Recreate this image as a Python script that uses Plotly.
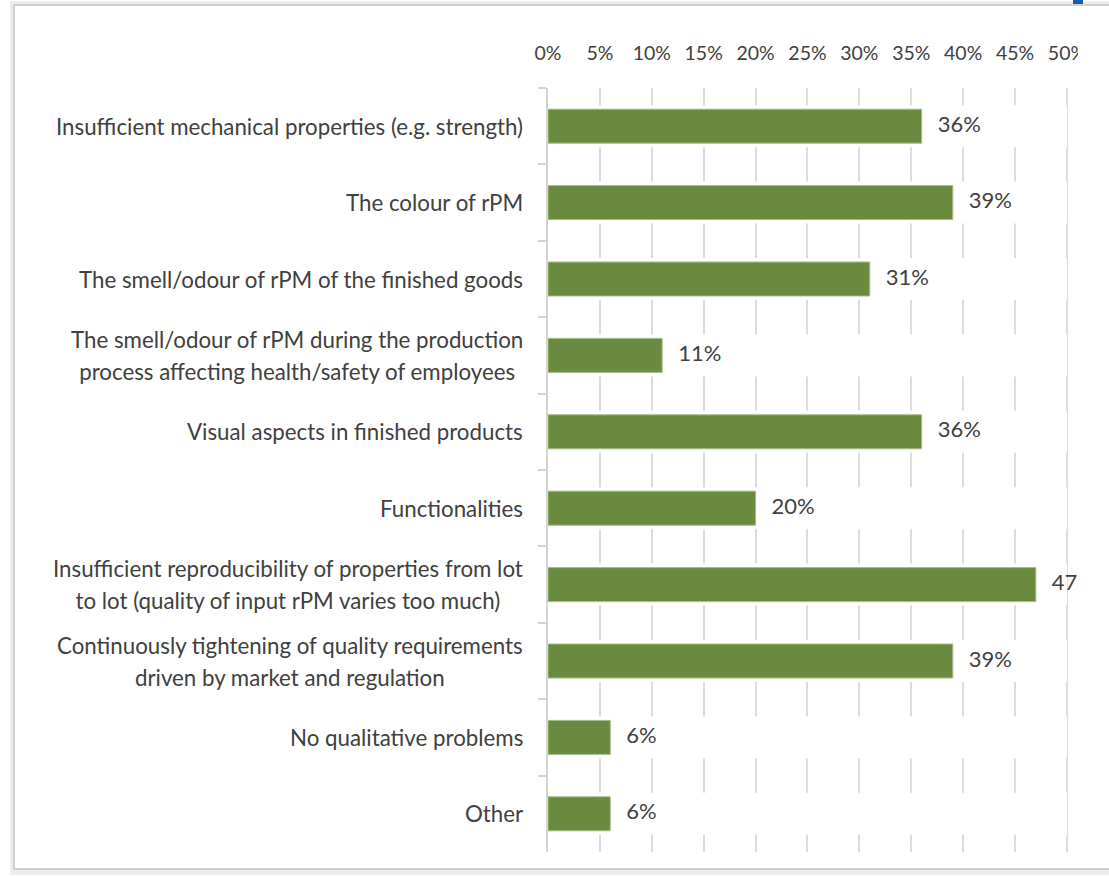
import plotly.graph_objects as go

# Survey: qualitative problems encountered when using recycled plastic material (rPM)
categories = [
    "Insufficient mechanical properties (e.g. strength)",
    "The colour of rPM",
    "The smell/odour of rPM of the finished goods",
    "The smell/odour of rPM during the production<br>process affecting health/safety of employees",
    "Visual aspects in finished products",
    "Functionalities",
    "Insufficient reproducibility of properties from lot<br>to lot (quality of input rPM varies too much)",
    "Continuously tightening of quality requirements<br>driven by market and regulation",
    "No qualitative problems",
    "Other",
]
shares = [36, 39, 31, 11, 36, 20, 47, 39, 6, 6]
x_ticks = [0, 5, 10, 15, 20, 25, 30, 35, 40, 45, 50]

W, H = 1109, 876
L, R, T, B = 548, 41, 88, 24
PW, PH = W - L - R, H - T - B

FONT = "Lato, Roboto, sans-serif"
TEXT = "#404040"
GREEN = "#6a8a3f"
LABEL_SIZE = 22.3
LINE_SIZE = 24.6  # sets the spacing between the two lines of a wrapped label


def px_x(px):
    return (px - L) / PW


def px_y(py):
    return (H - B - py) / PH


def label_markup(text):
    return "<br>".join(
        f"<span style='font-size:{LABEL_SIZE}px'>{part}</span>"
        for part in text.split("<br>")
    )


fig = go.Figure()

# white bands hide the gridlines along each bar row
fig.add_trace(go.Bar(
    y=categories, x=[x_ticks[-1]] * len(categories), orientation="h",
    width=0.55, marker=dict(color="white", line=dict(width=0)),
    hoverinfo="skip",
))
fig.add_trace(go.Bar(
    y=categories, x=shares, orientation="h", width=0.445,
    marker=dict(color=GREEN, line=dict(color="#a3bd85", width=1)),
    hoverinfo="skip",
))
fig.add_trace(go.Scatter(
    y=categories, x=shares, mode="markers+text",
    text=[f"{v}%" for v in shares], textposition="middle right",
    textfont=dict(family=FONT, size=22, color=TEXT),
    marker=dict(size=24, opacity=0), cliponaxis=False, hoverinfo="skip",
))

for c in categories:
    fig.add_annotation(
        x=0, xref="paper", y=c, yref="y", text=label_markup(c), showarrow=False,
        xanchor="right", xshift=-23, align="center",
        font=dict(family=FONT, size=LINE_SIZE, color=TEXT),
    )

shapes = [
    # soft shadow and frame around the chart
    dict(type="rect", xref="paper", yref="paper", layer="below",
         x0=px_x(10), x1=px_x(1300), y0=px_y(875), y1=px_y(1),
         fillcolor="#ececec", line=dict(width=0)),
    dict(type="rect", xref="paper", yref="paper", layer="below",
         x0=px_x(14), x1=px_x(1300), y0=px_y(869), y1=px_y(5),
         fillcolor="white", line=dict(color="#c4c4c4", width=1.5)),
    # chart object ends here; the rest of the strip is blank
    dict(type="rect", xref="paper", yref="paper", layer="above",
         x0=px_x(1078), x1=px_x(1300), y0=px_y(867), y1=px_y(6),
         fillcolor="white", line=dict(width=0)),
    dict(type="rect", xref="paper", yref="paper", layer="above",
         x0=px_x(1073), x1=px_x(1083), y0=px_y(4), y1=px_y(-2),
         fillcolor="#1a5ba6", line=dict(width=0)),
]

fig.update_layout(
    width=W, height=H,
    margin=dict(l=L, r=R, t=T, b=B),
    paper_bgcolor="white", plot_bgcolor="rgba(0,0,0,0)",
    barmode="overlay", showlegend=False, hovermode=False,
    font=dict(family=FONT, color=TEXT),
    shapes=shapes,
    xaxis=dict(
        side="top", range=[0, 50.1], tickvals=x_ticks,
        ticktext=[f"{v}%" for v in x_ticks],
        tickfont=dict(family=FONT, size=19.5, color=TEXT),
        showgrid=True, gridcolor="#dcdcdc", gridwidth=1.5,
        zeroline=False, showline=False, ticks="",
        ticklabelstandoff=23, fixedrange=True,
    ),
    yaxis=dict(
        categoryorder="array", categoryarray=categories,
        range=[len(categories) - 0.5, -0.5],
        showticklabels=False, showline=True, linecolor="#d4d4d4", linewidth=1.5,
        ticks="outside", tickson="boundaries", ticklen=8, tickcolor="#d4d4d4",
        tickwidth=1.5, showgrid=False, zeroline=False, fixedrange=True,
    ),
)

fig.write_html("out.html")
